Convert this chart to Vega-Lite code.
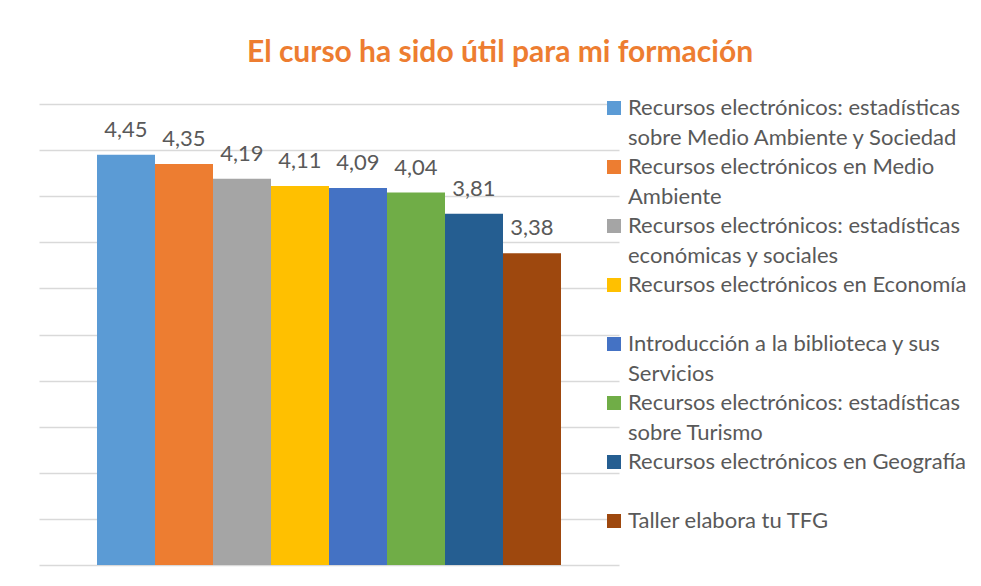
{
  "$schema": "https://vega.github.io/schema/vega-lite/v6.json",
  "width": 580,
  "height": 461,
  "autosize": {"type": "none"},
  "padding": {"left": 39, "top": 104, "right": 362, "bottom": 21},
  "background": "white",
  "title": {
    "text": "El curso ha sido útil para mi formación",
    "anchor": "middle",
    "dx": 171,
    "offset": 29,
    "font": "Lato",
    "fontSize": 30,
    "fontWeight": "bold",
    "color": "#ED7D31"
  },
  "data": {
    "values": [
      {"curso": "Recursos electrónicos: estadísticas sobre Medio Ambiente y Sociedad", "valor": 4.45},
      {"curso": "Recursos electrónicos en Medio Ambiente", "valor": 4.35},
      {"curso": "Recursos electrónicos: estadísticas económicas y sociales", "valor": 4.19},
      {"curso": "Recursos electrónicos en Economía", "valor": 4.11},
      {"curso": "Introducción a  la biblioteca y sus Servicios", "valor": 4.09},
      {"curso": "Recursos electrónicos: estadísticas sobre Turismo", "valor": 4.04},
      {"curso": "Recursos electrónicos en Geografía", "valor": 3.81},
      {"curso": "Taller elabora tu TFG", "valor": 3.38}
    ]
  },
  "encoding": {
    "x": {
      "field": "curso",
      "type": "nominal",
      "sort": null,
      "axis": null,
      "scale": {"paddingInner": 0, "paddingOuter": 1.088}
    },
    "y": {
      "field": "valor",
      "type": "quantitative",
      "scale": {"domain": [0, 5], "nice": false},
      "axis": {
        "title": null,
        "labels": false,
        "ticks": false,
        "domain": false,
        "grid": true,
        "values": [0, 0.5, 1, 1.5, 2, 2.5, 3, 3.5, 4, 4.5, 5],
        "gridColor": "#D9D9D9",
        "gridWidth": 1.4
      }
    }
  },
  "layer": [
    {
      "mark": {"type": "bar"},
      "encoding": {
        "color": {
          "field": "curso",
          "type": "nominal",
          "sort": null,
          "scale": {
            "range": ["#5B9BD5", "#ED7D31", "#A5A5A5", "#FFC000", "#4472C4", "#70AD47", "#255E91", "#9E480E"]
          },
          "legend": {
            "title": null,
            "orient": "none",
            "legendX": 564,
            "legendY": -7,
            "symbolType": "square",
            "symbolSize": 196,
            "symbolStrokeWidth": 0,
            "symbolOpacity": 1,
            "labelFont": "Lato",
            "labelFontSize": 22,
            "labelColor": "#595959",
            "labelLimit": 500,
            "labelOffset": 3,
            "rowPadding": 7,
            "labelExpr": "datum.value == 'Recursos electrónicos: estadísticas sobre Medio Ambiente y Sociedad' ? ['Recursos electrónicos: estadísticas', 'sobre Medio Ambiente y Sociedad'] : datum.value == 'Recursos electrónicos en Medio Ambiente' ? ['Recursos electrónicos en Medio', 'Ambiente'] : datum.value == 'Recursos electrónicos: estadísticas económicas y sociales' ? ['Recursos electrónicos: estadísticas', 'económicas y sociales'] : datum.value == 'Introducción a  la biblioteca y sus Servicios' ? ['Introducción a  la biblioteca y sus', 'Servicios'] : datum.value == 'Recursos electrónicos: estadísticas sobre Turismo' ? ['Recursos electrónicos: estadísticas', 'sobre Turismo'] : [datum.value, ' ']"
          }
        }
      }
    },
    {
      "mark": {
        "type": "text",
        "baseline": "alphabetic",
        "dy": -18,
        "font": "Lato",
        "fontSize": 22,
        "color": "#595959"
      },
      "encoding": {
        "text": {"field": "valor", "type": "quantitative", "format": ".2f"}
      }
    }
  ],
  "config": {
    "view": {"stroke": null},
    "locale": {
      "number": {"decimal": ",", "thousands": ".", "grouping": [3], "currency": ["", " €"]}
    },
    "style": {"guide-label": {"lineHeight": 30}}
  }
}
